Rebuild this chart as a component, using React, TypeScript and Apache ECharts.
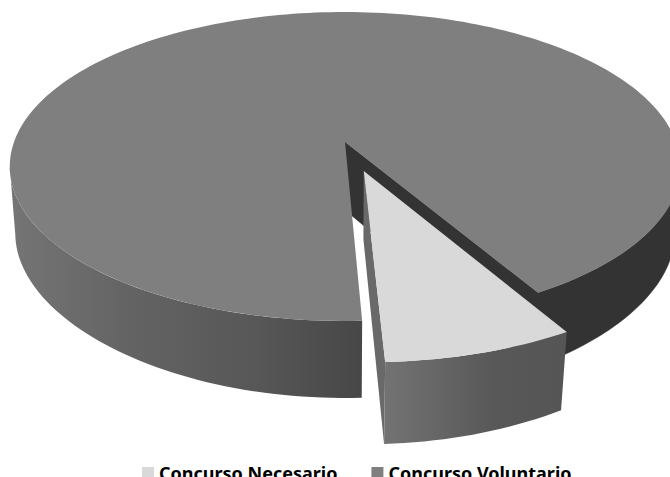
import React, { useEffect, useRef } from "react";
import * as echarts from "echarts";

const categories = ["Concurso Necesario", "Concurso Voluntario"];
const values = [7.7, 92.3];
const colors = ["#d9d9d9", "#7f7f7f"];

const total = values[0] + values[1];
const START = 2.5;
const span = (values[0] / total) * 360;
const EXPLODE = 0.195;
const CX = 345;
const topPlane = { A: 331, kx: 0.1586, B: 150.6, ky: 0.1586, cy: 142 };
const botPlane = { A: 326, kx: 0.15, B: 150.4, ky: 0.2, cy: 210 };

type Plane = typeof topPlane;
const rad = (d: number) => (d * Math.PI) / 180;

function project(p: Plane, u: number, v: number): number[] {
  return [CX + (p.A * u) / (1 - p.kx * v), p.cy + (p.B * v) / (1 - p.ky * v)];
}

function arc(p: Plane, a: number, b: number, du = 0, dv = 0): number[][] {
  const n = Math.max(2, Math.ceil(Math.abs(b - a) / 1.5));
  const pts: number[][] = [];
  for (let i = 0; i <= n; i++) {
    const t = rad(a + ((b - a) * i) / n);
    pts.push(project(p, Math.sin(t) + du, Math.cos(t) + dv));
  }
  return pts;
}

const hGrad = (stops: [number, string][]) => ({
  type: "linear",
  x: 0,
  y: 0,
  x2: 1,
  y2: 0,
  colorStops: stops.map(([offset, color]) => ({ offset, color })),
});

const poly = (points: number[][], fill: unknown, stroke: string | null = null) => ({
  type: "polygon",
  shape: { points },
  style: { fill, stroke, lineWidth: stroke ? 0.6 : 0 },
  silent: true,
});

function renderVoluntario() {
  const a = START + span;
  const b = START + 360;
  const dark = "#333333";
  const children = [
    poly(
      [
        project(topPlane, 0, 0),
        ...arc(topPlane, a, 81),
        ...arc(botPlane, 81, a),
        project(botPlane, 0, 0),
      ],
      dark,
      dark
    ),
    poly(
      [...arc(topPlane, 279, b), ...arc(botPlane, b, 279)],
      hGrad([
        [0, "#757575"],
        [0.35, "#636363"],
        [0.7, "#575757"],
        [1, "#474747"],
      ])
    ),
    poly([project(topPlane, 0, 0), ...arc(topPlane, a, b)], colors[1]),
  ];
  return { type: "group", children };
}

function renderNecesario() {
  const a = START;
  const b = START + span;
  const mid = rad((a + b) / 2);
  const du = EXPLODE * Math.sin(mid);
  const dv = EXPLODE * Math.cos(mid);
  const children = [
    poly(
      [
        project(topPlane, du, dv),
        ...arc(topPlane, a, a, du, dv),
        ...arc(botPlane, a, a, du, dv),
        project(botPlane, du, dv),
      ],
      "#696969"
    ),
    poly(
      [...arc(topPlane, a, b, du, dv), ...arc(botPlane, b, a, du, dv)],
      hGrad([
        [0, "#737373"],
        [0.6, "#585858"],
        [1, "#555555"],
      ])
    ),
    poly([project(topPlane, du, dv), ...arc(topPlane, a, b, du, dv)], colors[0]),
  ];
  return { type: "group", children };
}

export default function App() {
  const ref = useRef<HTMLDivElement>(null);
  useEffect(() => {
    document.body.style.margin = "0";
    document.body.style.overflow = "hidden";
    const chart = echarts.init(ref.current!, null, { renderer: "svg" });
    chart.setOption({
      animation: false,
      backgroundColor: "#ffffff",
      legend: {
        data: categories,
        left: 137,
        top: 459,
        itemWidth: 12,
        itemHeight: 12,
        itemGap: 34,
        icon: "rect",
        selectedMode: false,
        textStyle: {
          fontFamily: "Noto Sans",
          fontWeight: "bold",
          fontSize: 18,
          color: "#000000",
        },
      },
      series: [
        {
          type: "custom",
          name: categories[1],
          coordinateSystem: "none",
          itemStyle: { color: colors[1] },
          data: [[values[1]]],
          renderItem: renderVoluntario,
        },
        {
          type: "custom",
          name: categories[0],
          coordinateSystem: "none",
          itemStyle: { color: colors[0] },
          data: [[values[0]]],
          renderItem: renderNecesario,
        },
      ],
    });
    return () => chart.dispose();
  }, []);
  return <div ref={ref} style={{ width: 670, height: 477, overflow: "hidden" }} />;
}
